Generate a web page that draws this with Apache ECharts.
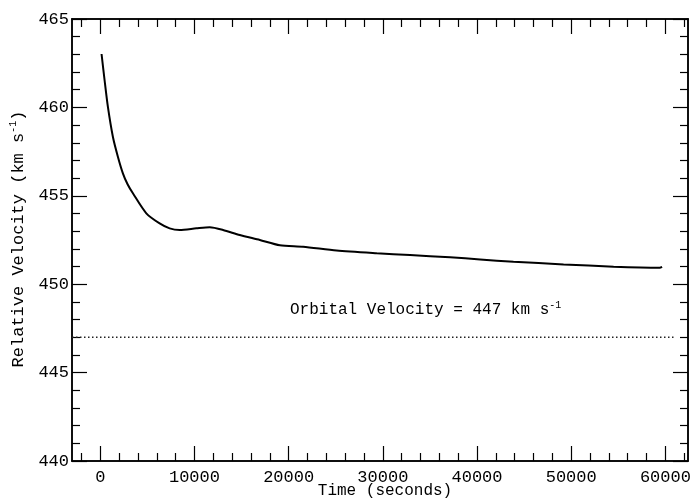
<!DOCTYPE html>
<html>
<head>
<meta charset="utf-8">
<script src="https://cdn.jsdelivr.net/npm/echarts@6/dist/echarts.min.js"></script>
<style>
html,body{margin:0;padding:0;background:#fff;}
#chart{width:696px;height:502px;}
</style>
</head>
<body>
<div id="chart"></div>
<script>
// ---- data ----
var timeSec = [138, 457, 808, 1340, 1871, 2403, 2900, 3466, 4890, 6305, 7368, 8432, 10200, 11620, 13040, 14810, 16940, 19070, 21540, 25090, 29350, 32890, 37140, 40330, 43870, 49190, 54500, 59400, 59650];
var velocity = [463.02, 461.55, 460.04, 458.34, 457.21, 456.27, 455.65, 455.14, 454.01, 453.44, 453.16, 453.07, 453.16, 453.22, 453.07, 452.78, 452.50, 452.20, 452.12, 451.90, 451.75, 451.65, 451.52, 451.40, 451.27, 451.12, 450.99, 450.93, 450.98];
var orbitalVelocity = 447;
var orbitalLineTime = [-3000, 61000];
var xMajorTicks = [0, 10000, 20000, 30000, 40000, 50000, 60000];
var xMinorTicks = [-2000, 2000, 4000, 6000, 8000, 12000, 14000, 16000, 18000, 22000, 24000, 26000, 28000, 32000, 34000, 36000, 38000, 42000, 44000, 46000, 48000, 52000, 54000, 56000, 58000, 62000];
var yMajorTicks = [440, 445, 450, 455, 460, 465];
var yMinorTicks = [441, 442, 443, 444, 446, 447, 448, 449, 451, 452, 453, 454, 456, 457, 458, 459, 461, 462, 463, 464];
var xRange = [-3000, 62400];
var yRange = [440, 465];

var curveData = timeSec.map(function (t, i) { return [t, velocity[i]]; });
var orbitalData = orbitalLineTime.map(function (t) { return [t, orbitalVelocity]; });

var FONT = 'Liberation Mono';
var axisLine = { show: true, onZero: false, lineStyle: { color: '#000', width: 1.5 } };

function ax(type, range, pos, ticks, len, labels, margin) {
  return {
    type: 'value', position: pos, min: range[0], max: range[1],
    axisLine: axisLine, splitLine: { show: false },
    axisTick: { show: true, inside: true, length: len, customValues: ticks, lineStyle: { color: '#000', width: 1.2 } },
    axisLabel: labels ? { show: true, customValues: ticks, color: '#000', fontFamily: FONT, fontSize: 17, margin: margin,
      formatter: function (v) { return String(v); } } : { show: false }
  };
}

var chart = echarts.init(document.getElementById('chart'), null, { renderer: 'canvas' });
chart.setOption({
  backgroundColor: '#fff',
  animation: false,
  grid: { left: 72, right: 8, top: 19, bottom: 41, containLabel: false },
  xAxis: [
    ax('x', xRange, 'bottom', xMajorTicks, 15, true, 8),
    ax('x', xRange, 'bottom', xMinorTicks, 8, false),
    ax('x', xRange, 'top', xMajorTicks, 15, false),
    ax('x', xRange, 'top', xMinorTicks, 8, false)
  ],
  yAxis: [
    ax('y', yRange, 'left', yMajorTicks, 15, true, 3),
    ax('y', yRange, 'left', yMinorTicks, 8, false),
    ax('y', yRange, 'right', yMajorTicks, 15, false),
    ax('y', yRange, 'right', yMinorTicks, 8, false)
  ],
  series: [
    {
      type: 'line', xAxisIndex: 0, yAxisIndex: 0, data: curveData,
      showSymbol: false, smooth: 0.25,
      lineStyle: { color: '#000', width: 2 }
    },
    {
      type: 'line', xAxisIndex: 0, yAxisIndex: 0, data: orbitalData,
      showSymbol: false,
      lineStyle: { color: '#222', width: 1.3, type: [1.5, 2.5] }
    }
  ],
  graphic: [
    {
      type: 'text', left: 290, top: 300,
      style: {
        text: '{n|Orbital Velocity = 447 km s}{s|-1}',
        rich: {
          n: { fontFamily: FONT, fontSize: 16, fill: '#000' },
          s: { fontFamily: FONT, fontSize: 10, fill: '#000', verticalAlign: 'top', padding: [0, 0, 10, 0] }
        }
      }
    },
    {
      type: 'text', x: 385, y: 491,
      style: { text: 'Time (seconds)', fontFamily: FONT, fontSize: 16, fill: '#000', align: 'center', verticalAlign: 'middle' }
    },
    {
      type: 'text', x: 18, y: 239, rotation: Math.PI / 2,
      style: {
        text: '{n|Relative Velocity (km s}{s|-1}{n|)}',
        align: 'center', verticalAlign: 'middle',
        rich: {
          n: { fontFamily: FONT, fontSize: 17, fill: '#000' },
          s: { fontFamily: FONT, fontSize: 10, fill: '#000', verticalAlign: 'top', padding: [0, 0, 10, 0] }
        }
      }
    }
  ]
});
</script>
</body>
</html>
